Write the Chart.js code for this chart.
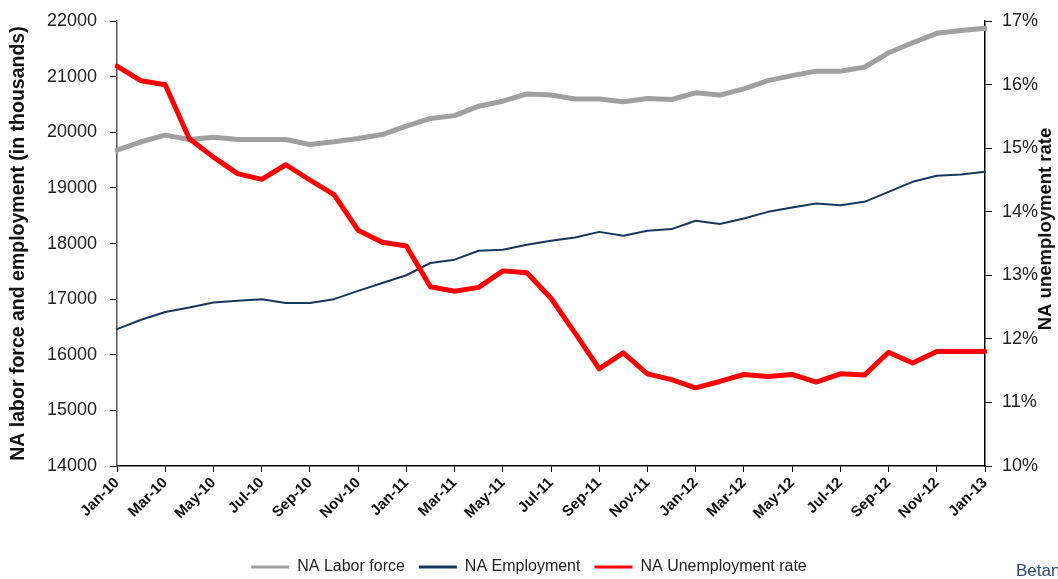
<!DOCTYPE html>
<html>
<head>
<meta charset="utf-8">
<script src="https://cdn.jsdelivr.net/npm/chart.js@4.4.1/dist/chart.umd.min.js"></script>
<style>
  html, body { margin: 0; padding: 0; background: #fff; }
  #wrap { width: 1058px; height: 579px; position: relative; }
</style>
</head>
<body>
<div id="wrap"><canvas id="chart"></canvas></div>
<script>
// monthly categories Jan-10 .. Jan-13
var months = ['Jan-10','Feb-10','Mar-10','Apr-10','May-10','Jun-10','Jul-10','Aug-10','Sep-10','Oct-10','Nov-10','Dec-10',
  'Jan-11','Feb-11','Mar-11','Apr-11','May-11','Jun-11','Jul-11','Aug-11','Sep-11','Oct-11','Nov-11','Dec-11',
  'Jan-12','Feb-12','Mar-12','Apr-12','May-12','Jun-12','Jul-12','Aug-12','Sep-12','Oct-12','Nov-12','Dec-12',
  'Jan-13'];

// thousands
var laborForce = [19680, 19830, 19950, 19870, 19910, 19870, 19870, 19870, 19780, 19830, 19890, 19960,
  20110, 20250, 20300, 20470, 20560, 20690, 20670, 20600, 20600, 20550, 20610, 20590,
  20710, 20670, 20780, 20930, 21020, 21100, 21100, 21170, 21430, 21610, 21780, 21830,
  21870];
var employment = [16460, 16630, 16770, 16850, 16940, 16970, 17000, 16930, 16930, 17000, 17150, 17290,
  17430, 17650, 17710, 17870, 17890, 17980, 18050, 18110, 18210, 18140, 18230, 18260,
  18410, 18350, 18450, 18570, 18650, 18720, 18690, 18750, 18930, 19110, 19220, 19240,
  19290];
// percent
var unemploymentRate = [16.29, 16.06, 16.0, 15.15, 14.86, 14.6, 14.51, 14.74, 14.5, 14.27, 13.71, 13.52,
  13.46, 12.82, 12.75, 12.81, 13.07, 13.04, 12.64, 12.09, 11.53, 11.78, 11.45, 11.36,
  11.23, 11.33, 11.44, 11.41, 11.44, 11.32, 11.45, 11.43, 11.79, 11.62, 11.8, 11.8,
  11.8];

var leftTicks = { min: 14000, max: 22000, step: 1000 };
var rightTicks = { min: 10, max: 17, step: 1 };

var FONT = "'Liberation Sans', Arial, sans-serif";
var NARROW = "'Liberation Sans Narrow', 'Liberation Sans', Arial, sans-serif";

// right axis title, reads bottom to top like the left one
var rightTitle = {
  id: 'rightTitle',
  afterDraw: function(chart) {
    var c = chart.ctx;
    c.save();
    c.translate(1046, 229);
    c.rotate(-Math.PI / 2);
    c.font = 'bold 18.5px ' + FONT;
    c.fillStyle = '#111';
    c.textAlign = 'center';
    c.textBaseline = 'middle';
    c.fillText('NA unemployment rate', 0, 0);
    c.restore();

    c.save();
    c.font = '17px ' + NARROW;
    c.fillStyle = '#2b4c7e';
    c.textAlign = 'left';
    c.textBaseline = 'middle';
    c.fillText('Betan', 1016, 571);
    c.restore();
  }
};

var ctx = document.getElementById('chart').getContext('2d');
var chart = new Chart(ctx, {
  type: 'line',
  data: {
    labels: months,
    datasets: [{
      label: 'NA Labor force',
      data: laborForce,
      yAxisID: 'y',
      borderColor: '#a0a0a0',
      backgroundColor: '#a0a0a0',
      borderWidth: 5,
      order: 2
    }, {
      label: 'NA Employment',
      data: employment,
      yAxisID: 'y',
      borderColor: '#17375e',
      backgroundColor: '#17375e',
      borderWidth: 2,
      order: 1
    }, {
      label: 'NA Unemployment rate',
      data: unemploymentRate,
      yAxisID: 'y1',
      borderColor: '#ff0000',
      backgroundColor: '#ff0000',
      borderWidth: 5,
      order: 0
    }]
  },
  options: {
    responsive: true,
    maintainAspectRatio: false,
    animation: false,
    layout: { padding: { top: 10, left: 0, right: 0, bottom: -6 } },
    elements: {
      point: { radius: 0 },
      line: { tension: 0, borderJoinStyle: 'round', borderCapStyle: 'round' }
    },
    plugins: {
      tooltip: { enabled: false },
      legend: {
        position: 'bottom',
        labels: {
          font: { family: NARROW, size: 16 },
          color: '#222',
          boxWidth: 38,
          boxHeight: 3,
          padding: 14,
          sort: function(a, b) { return a.datasetIndex - b.datasetIndex; },
          generateLabels: function(chart) {
            var items = Chart.defaults.plugins.legend.labels.generateLabels(chart);
            items.forEach(function(it) { it.lineWidth = 0; });
            return items;
          }
        }
      }
    },
    scales: {
      x: {
        grid: {
          drawOnChartArea: false,
          color: '#000',
          tickLength: 6
        },
        border: { color: '#000', width: 1.5 },
        ticks: {
          autoSkip: false,
          maxRotation: 45,
          minRotation: 45,
          padding: 2,
          color: '#111',
          font: { family: FONT, size: 15, weight: 'bold' },
          callback: function(v, i) { return i % 2 === 0 ? months[i] : null; }
        },
        afterFit: function(scale) { scale.height = 79; }
      },
      y: {
        position: 'left',
        min: leftTicks.min,
        max: leftTicks.max,
        grid: { drawOnChartArea: false, color: '#000', tickLength: 7 },
        border: { color: '#555', width: 1.5 },
        ticks: {
          stepSize: leftTicks.step,
          padding: 13,
          color: '#222',
          font: { family: FONT, size: 18, lineHeight: 0.9 },
          callback: function(v) { return String(v); }
        },
        title: {
          display: true,
          text: 'NA labor force and employment (in thousands)',
          color: '#111',
          font: { family: FONT, size: 19.5, weight: 'bold' },
          padding: { top: 7, bottom: 0 }
        },
        afterFit: function(scale) { scale.width = 117; }
      },
      y1: {
        position: 'right',
        min: rightTicks.min,
        max: rightTicks.max,
        grid: { drawOnChartArea: false, color: '#000', tickLength: 7 },
        border: { color: '#000', width: 1.5 },
        ticks: {
          stepSize: rightTicks.step,
          padding: 10,
          color: '#222',
          font: { family: FONT, size: 18, lineHeight: 0.9 },
          callback: function(v) { return v + '%'; }
        },
        afterFit: function(scale) { scale.width = 73; }
      }
    }
  },
  plugins: [rightTitle]
});
</script>
</body>
</html>
